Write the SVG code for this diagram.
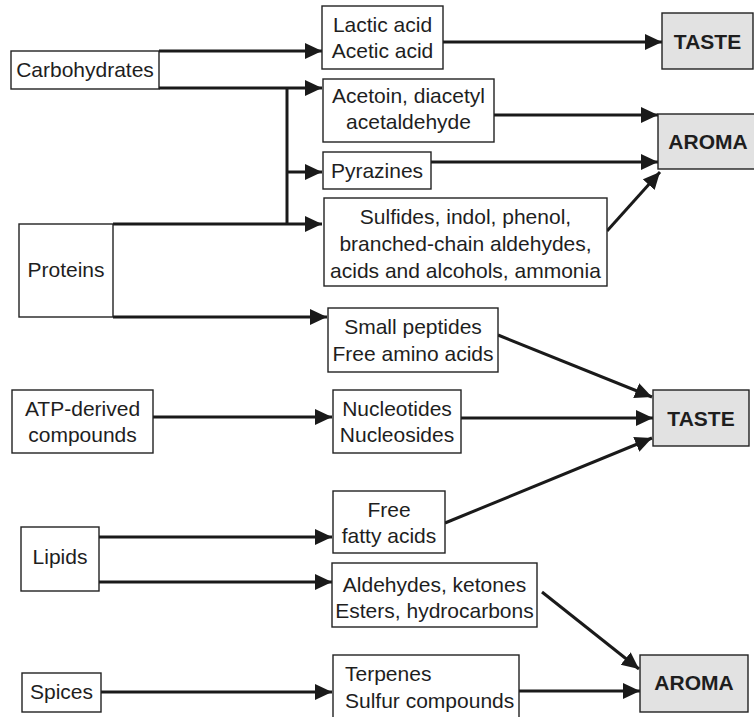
<svg xmlns="http://www.w3.org/2000/svg" width="754" height="717" viewBox="0 0 754 717">
  <style>
    .box { fill: #ffffff; stroke: #222222; stroke-width: 1.4; }
    .out { fill: #e2e2e2; stroke: #222222; stroke-width: 1.4; }
    .t { font-family: "Liberation Sans", Arial, sans-serif; font-size: 21px; fill: #1e1e1e; text-anchor: middle; }
    .l { text-anchor: start; }
    .b { font-weight: bold; }
    .c { fill: none; stroke: #1a1a1a; stroke-width: 3; marker-end: url(#ah); }
    .s { fill: none; stroke: #1a1a1a; stroke-width: 3; }
  </style>
  <defs>
    <marker id="ah" markerUnits="userSpaceOnUse" markerWidth="19" markerHeight="18" refX="17" refY="8" orient="auto">
      <path d="M0,0 L17,8 L0,16 z" fill="#1a1a1a"/>
    </marker>
  </defs>
  <rect width="754" height="717" fill="#ffffff"/>

  <!-- connectors -->
  <g id="connectors">
    <path class="c" d="M159,51 H322"/>
    <path class="c" d="M159,88 H322"/>
    <path class="s" d="M287,88 V225"/>
    <path class="c" d="M287,172 H322"/>
    <path class="c" d="M113,224 H322"/>
    <path class="c" d="M113,317 H327"/>
    <path class="c" d="M443,42 H662"/>
    <path class="c" d="M494,115 H658"/>
    <path class="c" d="M431,162 H658"/>
    <path class="c" d="M607,231 L660,172"/>
    <path class="c" d="M498,335 L652,397"/>
    <path class="c" d="M153,417 H332"/>
    <path class="c" d="M461,418 H653"/>
    <path class="c" d="M445,523 L652,438"/>
    <path class="c" d="M99,537 H332"/>
    <path class="c" d="M99,582 H332"/>
    <path class="c" d="M542,592 L639,669"/>
    <path class="c" d="M101,692 H332"/>
    <path class="c" d="M519,691 H640"/>
  </g>

  <!-- sources -->
  <g id="carbohydrates">
    <rect class="box" x="11" y="51" width="148" height="38"/>
    <text class="t" x="85" y="77">Carbohydrates</text>
  </g>
  <g id="proteins">
    <rect class="box" x="19" y="224" width="94" height="93"/>
    <text class="t" x="66" y="277">Proteins</text>
  </g>
  <g id="atp">
    <rect class="box" x="12" y="390" width="141" height="63"/>
    <text class="t" x="82.5" y="416">ATP-derived</text>
    <text class="t" x="82.5" y="442">compounds</text>
  </g>
  <g id="lipids">
    <rect class="box" x="21" y="527" width="78" height="64"/>
    <text class="t" x="60" y="564">Lipids</text>
  </g>
  <g id="spices">
    <rect class="box" x="22" y="673" width="79" height="39"/>
    <text class="t" x="61.5" y="699">Spices</text>
  </g>

  <!-- products -->
  <g id="lactic">
    <rect class="box" x="322" y="6" width="121" height="63"/>
    <text class="t" x="382.5" y="32">Lactic acid</text>
    <text class="t" x="382.5" y="58">Acetic acid</text>
  </g>
  <g id="acetoin">
    <rect class="box" x="323" y="79" width="171" height="63"/>
    <text class="t" x="408.5" y="103">Acetoin, diacetyl</text>
    <text class="t" x="408.5" y="129">acetaldehyde</text>
  </g>
  <g id="pyrazines">
    <rect class="box" x="323" y="152" width="108" height="37"/>
    <text class="t" x="377" y="178">Pyrazines</text>
  </g>
  <g id="sulfides">
    <rect class="box" x="324" y="198" width="283" height="88"/>
    <text class="t" x="465.5" y="224">Sulfides, indol, phenol,</text>
    <text class="t" x="465.5" y="251">branched-chain aldehydes,</text>
    <text class="t" x="465.5" y="278">acids and alcohols, ammonia</text>
  </g>
  <g id="peptides">
    <rect class="box" x="328" y="308" width="170" height="64"/>
    <text class="t" x="413" y="334">Small peptides</text>
    <text class="t" x="413" y="361">Free amino acids</text>
  </g>
  <g id="nucleotides">
    <rect class="box" x="333" y="390" width="128" height="63"/>
    <text class="t" x="397" y="416">Nucleotides</text>
    <text class="t" x="397" y="442">Nucleosides</text>
  </g>
  <g id="fattyacids">
    <rect class="box" x="333" y="491" width="112" height="62"/>
    <text class="t" x="389" y="517">Free</text>
    <text class="t" x="389" y="543">fatty acids</text>
  </g>
  <g id="aldehydes">
    <rect class="box" x="332" y="563" width="205" height="64"/>
    <text class="t" x="434.5" y="592">Aldehydes, ketones</text>
    <text class="t" x="434.5" y="618">Esters, hydrocarbons</text>
  </g>
  <g id="terpenes">
    <rect class="box" x="333" y="655" width="186" height="80"/>
    <text class="t l" x="345" y="681">Terpenes</text>
    <text class="t l" x="345" y="708">Sulfur compounds</text>
  </g>

  <!-- sensory outcomes -->
  <g id="taste1">
    <rect class="out" x="662" y="13" width="91" height="56"/>
    <text class="t b" x="707.5" y="49">TASTE</text>
  </g>
  <g id="aroma1">
    <rect class="out" x="658" y="114" width="100" height="55"/>
    <text class="t b" x="708" y="149">AROMA</text>
  </g>
  <g id="taste2">
    <rect class="out" x="653" y="390" width="96" height="56"/>
    <text class="t b" x="701" y="426">TASTE</text>
  </g>
  <g id="aroma2">
    <rect class="out" x="640" y="655" width="108" height="57"/>
    <text class="t b" x="694" y="690">AROMA</text>
  </g>
</svg>
